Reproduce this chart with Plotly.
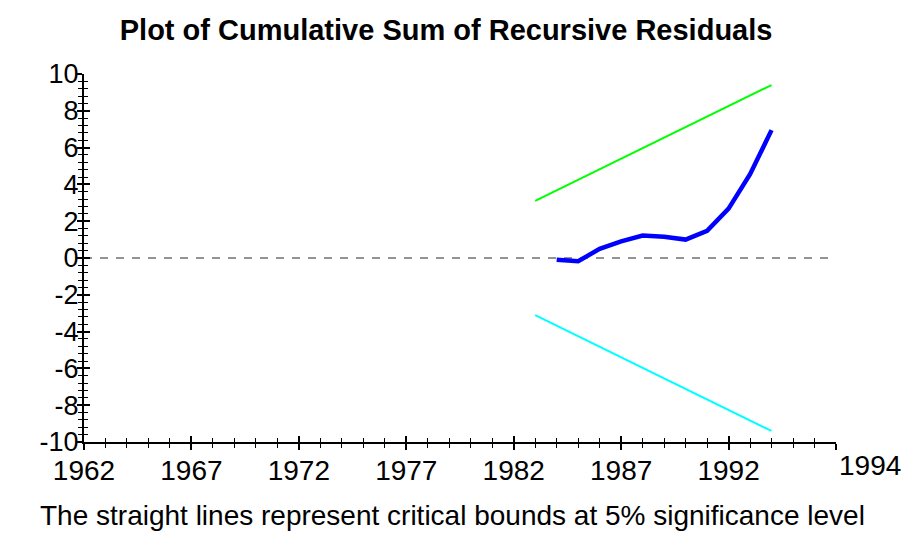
import plotly.graph_objects as go

years = [1984, 1985, 1986, 1987, 1988, 1989, 1990, 1991, 1992, 1993, 1994]
cusum = [-0.1, -0.18, 0.5, 0.9, 1.22, 1.15, 1.0, 1.48, 2.68, 4.55, 6.95]
bound_years = [1983, 1994]
upper_bound = [3.1, 9.4]
lower_bound = [-3.1, -9.4]
zero_line_x = [1962, 1996.7]
zero_line_y = [0, 0]
x_tickvals = [1962, 1967, 1972, 1977, 1982, 1987, 1992, 1997]
x_ticktext = ["1962", "1967", "1972", "1977", "1982", "1987", "1992", ""]
y_tickvals = [-10, -8, -6, -4, -2, 0, 2, 4, 6, 8, 10]
y_ticktext = ["-10", "-8", "-6", "-4", "-2", "0", "2", "4", "6", "8", "10"]

FONT = "Liberation Sans, Arial, sans-serif"

fig = go.Figure()
fig.add_trace(go.Scatter(x=zero_line_x, y=zero_line_y, mode="lines",
                         line=dict(color="#707070", width=1.5, dash="8px,8px"),
                         showlegend=False, hoverinfo="skip"))
fig.add_trace(go.Scatter(x=bound_years, y=upper_bound, mode="lines",
                         line=dict(color="#00ff00", width=2), showlegend=False))
fig.add_trace(go.Scatter(x=bound_years, y=lower_bound, mode="lines",
                         line=dict(color="#00ffff", width=2), showlegend=False))
fig.add_trace(go.Scatter(x=years, y=cusum, mode="lines",
                         line=dict(color="#0000ff", width=4.5), showlegend=False))

axis_common = dict(showgrid=False, zeroline=False, showline=True, automargin=False,
                   linecolor="black", linewidth=2, tickcolor="black")

fig.update_layout(
    width=916, height=534,
    margin=dict(l=84, r=80, t=74, b=92),
    paper_bgcolor="white", plot_bgcolor="white",
    font=dict(family=FONT, color="black"),
    title=dict(text="<b>Plot of Cumulative Sum of Recursive Residuals</b>",
               x=0.487, xanchor="center", y=0.944, yanchor="middle",
               font=dict(size=29, family=FONT, color="black")),
    xaxis=dict(range=[1962, 1997], tickmode="array", tickvals=x_tickvals,
               ticktext=x_ticktext, ticks="outside", ticklen=6, tickwidth=1.5,
               tickfont=dict(size=28, family=FONT), ticklabelstandoff=-4,
               minor=dict(dtick=1, ticks="outside", ticklen=4, tickwidth=1, tickcolor="black"),
               **axis_common),
    yaxis=dict(range=[-10, 10], tickmode="array", tickvals=y_tickvals,
               ticktext=y_ticktext, ticks="outside", ticklen=5, tickwidth=1.5,
               tickfont=dict(size=27, family=FONT), ticklabelstandoff=-7,
               minor=dict(dtick=0.4, tick0=0, ticks="outside", ticklen=4, tickwidth=1, tickcolor="black"),
               **axis_common),
    xaxis2=dict(range=[1962, 1997], overlaying="x", tickmode="array", tickvals=x_tickvals,
                showticklabels=False, ticks="inside", ticklen=6, tickwidth=1.5, side="bottom",
                minor=dict(dtick=1, ticks="inside", ticklen=4, tickwidth=1, tickcolor="black"),
                anchor="y", **axis_common),
    yaxis2=dict(range=[-10, 10], overlaying="y", tickmode="array", tickvals=y_tickvals,
                showticklabels=False, ticks="inside", ticklen=6, tickwidth=1.5, side="left",
                minor=dict(dtick=0.4, tick0=0, ticks="inside", ticklen=4, tickwidth=1, tickcolor="black"),
                anchor="x", **axis_common),
)
# invisible trace to activate overlay axes
fig.add_trace(go.Scatter(x=[1962], y=[0], xaxis="x2", yaxis="y2", mode="markers",
                         marker=dict(opacity=0), showlegend=False, hoverinfo="skip"))

fig.add_annotation(text="1994", x=1.045, xref="paper", xanchor="center",
                   y=-0.065, yref="paper", yanchor="middle",
                   showarrow=False, font=dict(size=28, family=FONT, color="black"))
fig.add_annotation(text="The straight lines represent critical bounds at 5% significance level",
                   x=0.49, xref="paper", xanchor="center", y=-0.2, yref="paper",
                   yanchor="middle",
                   showarrow=False, font=dict(size=28, family=FONT, color="black"))

fig.write_html("out.html", config={"displayModeBar": False},
               post_script="document.body.style.margin='0';")
